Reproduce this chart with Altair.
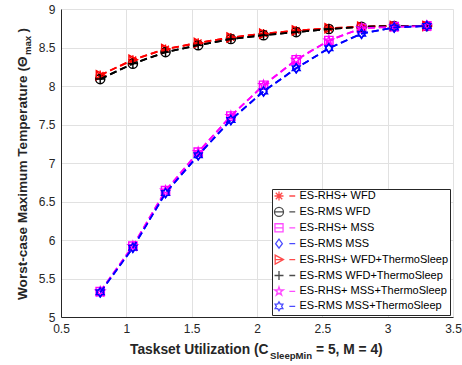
import altair as alt
import pandas as pd

# ---------------- data ----------------
utilization = [0.8, 1.05, 1.3, 1.55, 1.8, 2.05, 2.3, 2.55, 2.8, 3.05, 3.3]

es_rhs_wfd = [8.14, 8.34, 8.48, 8.56, 8.63, 8.68, 8.72, 8.75, 8.77, 8.78, 8.78]
es_rms_wfd = [8.09, 8.29, 8.44, 8.53, 8.61, 8.66, 8.70, 8.74, 8.77, 8.78, 8.78]
es_rhs_mss = [5.33, 5.92, 6.64, 7.14, 7.61, 8.01, 8.34, 8.59, 8.75, 8.77, 8.78]
es_rms_mss = [5.32, 5.90, 6.61, 7.10, 7.56, 7.93, 8.23, 8.49, 8.68, 8.76, 8.78]
es_rhs_wfd_ts = [8.14, 8.34, 8.48, 8.56, 8.63, 8.68, 8.72, 8.75, 8.77, 8.78, 8.78]
es_rms_wfd_ts = [8.09, 8.29, 8.44, 8.53, 8.61, 8.66, 8.70, 8.74, 8.77, 8.78, 8.78]
es_rhs_mss_ts = [5.33, 5.92, 6.64, 7.14, 7.61, 8.01, 8.34, 8.59, 8.75, 8.77, 8.78]
es_rms_mss_ts = [5.32, 5.90, 6.61, 7.10, 7.56, 7.93, 8.23, 8.49, 8.68, 8.76, 8.78]

series_names = [
    "ES-RHS+ WFD",
    "ES-RMS WFD",
    "ES-RHS+ MSS",
    "ES-RMS MSS",
    "ES-RHS+ WFD+ThermoSleep",
    "ES-RMS WFD+ThermoSleep",
    "ES-RHS+ MSS+ThermoSleep",
    "ES-RMS MSS+ThermoSleep",
]
series_values = [es_rhs_wfd, es_rms_wfd, es_rhs_mss, es_rms_mss,
                 es_rhs_wfd_ts, es_rms_wfd_ts, es_rhs_mss_ts, es_rms_mss_ts]
series_colors = ["#ff0000", "#000000", "#ff00ff", "#0000ff",
                 "#ff0000", "#000000", "#ff00ff", "#0000ff"]

x_ticks = [0.5, 1, 1.5, 2, 2.5, 3, 3.5]
y_ticks = [5, 5.5, 6, 6.5, 7, 7.5, 8, 8.5, 9]

# ---------------- marker shapes (unit-square SVG paths) ----------------
ASTERISK = "M-1,0L1,0M0,-1L0,1M-0.72,-0.72L0.72,0.72M-0.72,0.72L0.72,-0.72"
CIRCLE = "M-1,0A1,1,0,1,0,1,0A1,1,0,1,0,-1,0Z"
SQUARE = "M-0.9,-0.9L0.9,-0.9L0.9,0.9L-0.9,0.9Z"
DIAMOND = "M0,-1L0.75,0L0,1L-0.75,0Z"
TRI_RIGHT = "M-0.85,-1L1,0L-0.85,1Z"
PLUS = "M-1,0L1,0M0,-1L0,1"
PENTAGRAM = ("M0,-1L0.225,-0.309L0.951,-0.309L0.363,0.118L0.588,0.809"
             "L0,0.382L-0.588,0.809L-0.363,0.118L-0.951,-0.309L-0.225,-0.309Z")
HEXAGRAM = ("M0,-1L0.289,-0.5L0.866,-0.5L0.577,0L0.866,0.5L0.289,0.5L0,1"
            "L-0.289,0.5L-0.866,0.5L-0.577,0L-0.866,-0.5L-0.289,-0.5Z")

marker_paths = [ASTERISK, CIRCLE, SQUARE, DIAMOND, TRI_RIGHT, PLUS, PENTAGRAM, HEXAGRAM]
THROUGH = " M-1,0L1,0"
SEG = " M2.3,0L3.6,0"
legend_paths = [
    ASTERISK + SEG,
    CIRCLE + THROUGH + SEG,
    SQUARE + THROUGH + SEG,
    DIAMOND + SEG,
    TRI_RIGHT + THROUGH + SEG,
    PLUS + SEG,
    PENTAGRAM + SEG,
    HEXAGRAM + SEG,
]

rows = []
for name, vals in zip(series_names, series_values):
    for u, v in zip(utilization, vals):
        rows.append({"series": name, "u": u, "temp": v})
df = pd.DataFrame(rows)

FONT = "Liberation Sans"
AX = "#262626"
GRID = "#e1e1e1"

x_enc = alt.X(
    "u:Q",
    scale=alt.Scale(domain=[0.5, 3.5], nice=False, zero=False),
    axis=alt.Axis(values=x_ticks, format="~g", title=None, grid=True, gridColor=GRID,
                  ticks=False, labelPadding=6, labelFontSize=12, labelColor=AX,
                  labelFont=FONT, domainColor=AX, labelFlush=False, labelOverlap=False),
)
y_enc = alt.Y(
    "temp:Q",
    scale=alt.Scale(domain=[5, 9], nice=False, zero=False),
    axis=alt.Axis(values=y_ticks, format="~g", title=None, grid=True, gridColor=GRID,
                  ticks=False, labelPadding=6, labelFontSize=12, labelColor=AX,
                  labelFont=FONT, domainColor=AX, labelFlush=False, labelOverlap=False),
)

layers = []
for i, name in enumerate(series_names):
    base = alt.Chart(df).transform_filter(alt.datum.series == name)
    layers.append(
        base.mark_line(color=series_colors[i], strokeDash=[7, 4], strokeWidth=1.8)
        .encode(x=x_enc, y=y_enc, order="u:Q")
    )
    layers.append(
        base.mark_point(shape=marker_paths[i], color=series_colors[i], filled=False,
                        size=85, strokeWidth=1.4, opacity=1)
        .encode(x=x_enc, y=y_enc)
    )

legend = alt.Legend(
    title=None, orient="none", legendX=211, legendY=180, padding=1.5,
    fillColor="white", strokeColor=AX, labelFont=FONT, labelFontSize=11,
    labelColor="#000000", labelOffset=15, symbolSize=81, symbolStrokeWidth=1.3,
    rowPadding=0.9, labelExpr="datum.label + '\u00a0\u00a0'",
)
legend_layer = (
    alt.Chart(df)
    .transform_filter("false")
    .mark_point(filled=False)
    .encode(
        x=x_enc, y=y_enc,
        color=alt.Color("series:N", scale=alt.Scale(domain=series_names, range=series_colors),
                        legend=legend),
        shape=alt.Shape("series:N", scale=alt.Scale(domain=series_names, range=legend_paths),
                        legend=legend),
    )
)


def label(text, x, y, size, angle=0):
    return (
        alt.Chart(pd.DataFrame({"k": [0]}))
        .mark_text(text=text, font=FONT, fontSize=size, fontWeight="bold", color=AX,
                   align="left", baseline="alphabetic", angle=angle)
        .encode(x=alt.value(x), y=alt.value(y))
    )


texts = [
    label("Taskset Utilization (C", 69, 345, 13.8),
    label("SleepMin", 209, 349.5, 9.6),
    label("= 5, M = 4)", 255, 345, 13.8),
    label("Worst-case Maximum Temperature (\u0398", -34, 291, 13.6, 270),
    label("max", -30, 46, 9.6, 270),
    label(")", -34, 23.5, 13.6, 270),
]

chart = (
    alt.layer(*layers, legend_layer, *texts)
    .properties(
        width=392, height=308,
        padding={"left": 61, "top": 9, "right": 9, "bottom": 48},
        autosize=alt.AutoSizeParams(type="none"),
    )
    .configure_view(stroke=None)
)

chart.save("out.html", embed_options={"renderer": "svg", "actions": False})
